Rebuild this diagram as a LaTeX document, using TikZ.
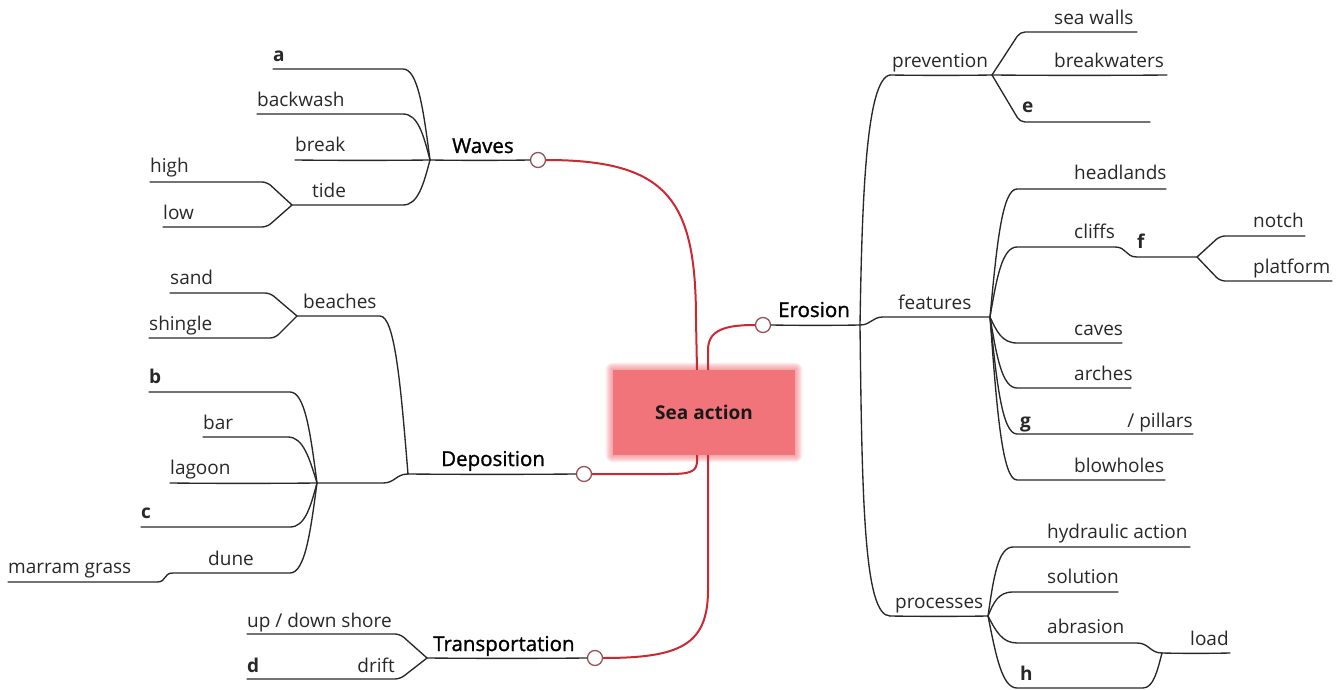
\documentclass[tikz,border=0pt]{standalone}
\usepackage{fontspec}
\setmainfont{Open Sans}
\newfontfamily\branchfont[FakeBold=1.2]{Open Sans}
\usetikzlibrary{calc,backgrounds}

\definecolor{seared}{RGB}{240,116,122}
\definecolor{linkred}{RGB}{205,40,50}
\definecolor{ringcol}{RGB}{150,85,90}
\definecolor{inkgray}{RGB}{40,40,40}

% curve from a knee point #1 (horizontal tangent, offset #3) into hub #2
\newcommand\kn[3]{.. controls ($(#1)+(#3,0)$) and ($(#2)!0.55!(#1)+(0.55*#3,0)$) .. (#2)}
% gentle S-step between two horizontal runs
\newcommand\sstep[2]{.. controls ($(#1)+(12,0)$) and ($(#2)+(-12,0)$) .. (#2)}
% straight run written as a very slightly sagging curve, so all strokes render alike
\newcommand\strt[2]{(#1) .. controls ($(#1)!0.33!(#2)+(0,0.5)$) and ($(#1)!0.67!(#2)+(0,0.5)$) .. (#2)}

\tikzset{
  lab/.style={anchor=base west, inner sep=0pt, font=\fontsize{19}{22}\selectfont, text=inkgray},
  labr/.style={lab, anchor=base east},
  letr/.style={lab, font=\fontsize{19}{22}\selectfont\bfseries},
  branch/.style={lab, font=\fontsize{20.5}{24}\branchfont, text=black},
  twig/.style={draw=inkgray, line width=1.35pt, line cap=round, line join=round},
  twigr/.style={twig, rounded corners=5pt},
  redlink/.style={draw=linkred, line width=2pt},
  ring/.style={circle, draw=ringcol, line width=1.3pt, fill=white, minimum size=15pt, inner sep=0pt},
  seabox/.style={fill=seared, minimum width=182pt, minimum height=85pt, inner sep=0pt,
    font=\fontsize{19}{22}\selectfont\bfseries, text=black!90}
}

\begin{document}
\begin{tikzpicture}[x=1pt,y=-1pt]
\useasboundingbox (0,0) rectangle (1342,690);

% ---------- centre ----------
\node[seabox] (sea) at (704,412.5) {Sea action};
\begin{scope}[on background layer]
  \foreach \i in {1,...,7}
    \fill[seared, opacity=0.13, rounded corners=\i pt]
      ($(sea.north west)+(-\i,-\i)$) rectangle ($(sea.south east)+(\i,\i)$);
\end{scope}
\coordinate (snA) at ($(sea.north)+(-7,0)$);
\coordinate (snB) at ($(sea.north)+(4,0)$);
\coordinate (ssA) at ($(sea.south)+(-7,0)$);
\coordinate (ssB) at ($(sea.south)+(4,0)$);

\node[ring] (wc) at (538,160) {};
\node[ring] (ec) at (763,325) {};
\node[ring] (dc) at (584,474) {};
\node[ring] (tc) at (595,658) {};

\coordinate (wr1) at (696,320);
\coordinate (er1) at (708,350);
\coordinate (dr1) at (697,461);
\coordinate (dr2) at (668,474);
\coordinate (tr1) at (708,590);
\draw[redlink] (wc.east) .. controls (668,160) and (696,200) .. (wr1) -- (snA);
\draw[redlink] (snB) -- (er1) .. controls (708,330) and (725,325) .. (ec.west);
\draw[redlink] (ssA) -- (dr1) .. controls (697,472) and (690,474) .. (dr2) -- (dc.east);
\draw[redlink] (ssB) -- (tr1) .. controls (708,645) and (680,658) .. (tc.east);

% ---------- Waves ----------
\coordinate (wh) at (430,160);
\node[branch] (waves) at (452,153) {Waves};
\draw[twig] \strt{wh}{wc.west};

\node[letr] (la) at (273,62) {a};
\coordinate (a0) at (273,69); \coordinate (a1) at (403,69);
\draw[twig] (a0) -- (a1) \kn{a1}{wh}{15};

\node[lab] (lbw) at (257,107) {backwash};
\coordinate (bw0) at (257,114); \coordinate (bw1) at (403,114);
\draw[twig] (bw0) -- (bw1) \kn{bw1}{wh}{15};

\node[lab] (lbr) at (295,152) {break};
\coordinate (br0) at (295,160);
\draw[twig] \strt{br0}{wh};

\node[lab] (ltd) at (312,197) {tide};
\coordinate (th) at (292,205); \coordinate (t1) at (403,205);
\draw[twig] (th) -- (t1) \kn{t1}{wh}{15};

\node[lab] (lhi) at (150,173) {high};
\coordinate (hi0) at (150,182); \coordinate (hi1) at (267,182);
\draw[twigr] (hi0) -- (hi1) -- (th);

\node[lab] (llo) at (163,219) {low};
\coordinate (lo0) at (163,227); \coordinate (lo1) at (267,227);
\draw[twigr] (lo0) -- (lo1) -- (th);

% ---------- Deposition ----------
\coordinate (dh) at (408,474);
\node[branch] (depo) at (441,466) {Deposition};
\draw[twig] \strt{dh}{dc.west};

\coordinate (bh) at (297,316); \coordinate (bc1) at (380,316);
\node[lab] (lbe) at (303,308) {beaches};
\draw[twig] (bh) -- (bc1) \kn{bc1}{dh}{15};

\node[lab] (lsa) at (170,284) {sand};
\coordinate (sa0) at (170,293); \coordinate (sa1) at (270,293);
\draw[twigr] (sa0) -- (sa1) -- (bh);

\node[lab] (lsh) at (149,330) {shingle};
\coordinate (sh0) at (149,338); \coordinate (sh1) at (275,338);
\draw[twigr] (sh0) -- (sh1) -- (bh);

\coordinate (lh) at (317,483); \coordinate (lh1) at (383,483);
\draw[twig] (lh) -- (lh1) \sstep{lh1}{dh};

\node[letr] (lb) at (149,383) {b};
\coordinate (b0) at (149,392); \coordinate (b1) at (290,392);
\draw[twig] (b0) -- (b1) \kn{b1}{lh}{15};

\node[lab] (lba) at (203,429) {bar};
\coordinate (ba0) at (203,437); \coordinate (ba1) at (288,437);
\draw[twig] (ba0) -- (ba1) \kn{ba1}{lh}{15};

\node[lab] (lla) at (170,474) {lagoon};
\coordinate (la0) at (170,483);
\draw[twig] \strt{la0}{lh};

\node[letr] (lc) at (141,518) {c};
\coordinate (c0) at (141,527); \coordinate (c1) at (290,527);
\draw[twig] (c0) -- (c1) \kn{c1}{lh}{15};

\node[lab] (ldu) at (208,565) {dune};
\node[lab] (lma) at (8,573) {marram grass};
\coordinate (m0) at (8,582); \coordinate (m1) at (157,582);
\coordinate (du0) at (173,573); \coordinate (du1) at (290,573);
\draw[twig] (m0) -- (m1) .. controls (167,582) and (163,573) .. (du0) -- (du1) \kn{du1}{lh}{15};

% ---------- Transportation ----------
\coordinate (trh) at (427,658);
\node[branch] (trans) at (433,651) {Transportation};
\draw[twig] \strt{trh}{tc.west};

\node[lab] (lup) at (247,627) {up / down shore};
\coordinate (up0) at (247,634); \coordinate (up1) at (400,634);
\draw[twigr] (up0) -- (up1) -- (trh);

\node[letr] (ld) at (247,672) {d};
\node[labr] (ldr) at (395,672) {drift};
\coordinate (dr0) at (247,679); \coordinate (dr3) at (400,679);
\draw[twigr] (dr0) -- (dr3) -- (trh);

% ---------- Erosion ----------
\node[branch] (eros) at (778,317) {Erosion};
\coordinate (ej) at (860,325);
\draw[twig] \strt{ec.east}{ej};

\coordinate (pv0) at (890,75); \coordinate (pvh) at (992,75);
\coordinate (fj0) at (883,317); \coordinate (fh) at (990,317);
\coordinate (pr0) at (890,616); \coordinate (prh) at (988,616);
\draw[twig] (pv0) .. controls (866,79) and (862,200) .. (ej)
            .. controls (862,500) and (864,616) .. (pr0);
\draw[twig] \strt{pv0}{pvh};
\draw[twig] (ej) .. controls (871,325) and (872,317) .. (fj0) -- (fh);
\draw[twig] \strt{pr0}{prh};
\node[lab] (lpv) at (892,68) {prevention};
\node[lab] (lfe) at (898,309) {features};
\node[lab] (lpr) at (895,608) {processes};

% prevention
\node[lab] (lsw) at (1054,25) {sea walls};
\coordinate (sw1) at (1020,32); \coordinate (sw0) at (1137,32);
\draw[twigr] (pvh) -- (sw1) -- (sw0);
\node[lab] (lbk) at (1054,68) {breakwaters};
\coordinate (bk0) at (1167,75);
\draw[twig] \strt{pvh}{bk0};
\node[letr] (le) at (1022,113) {e};
\coordinate (e1) at (1020,122); \coordinate (e0) at (1150,122);
\draw[twigr] (pvh) -- (e1) -- (e0);

% features
\node[lab] (lhd) at (1074,180) {headlands};
\coordinate (hd0) at (1166,189); \coordinate (hd1) at (1017,189);
\draw[twig] (hd0) -- (hd1) \kn{hd1}{fh}{-15};

\node[lab] (lcl) at (1074,238) {cliffs};
\node[letr] (lf) at (1137,248) {f};
\coordinate (cl1) at (1017,247); \coordinate (cl2) at (1115,247);
\coordinate (cl3) at (1137,257); \coordinate (ffh) at (1197,257);
\draw[twig] (ffh) -- (cl3) .. controls (1125,257) and (1127,247) .. (cl2) -- (cl1) \kn{cl1}{fh}{-15};

\node[lab] (lno) at (1253,227) {notch};
\coordinate (no1) at (1220,236); \coordinate (no0) at (1305,236);
\draw[twigr] (ffh) -- (no1) -- (no0);
\node[lab] (lpl) at (1253,273) {platform};
\coordinate (pl1) at (1220,281); \coordinate (pl0) at (1332,281);
\draw[twigr] (ffh) -- (pl1) -- (pl0);

\node[lab] (lca) at (1074,335) {caves};
\coordinate (ca0) at (1122,343); \coordinate (ca1) at (1017,343);
\draw[twig] (ca0) -- (ca1) \kn{ca1}{fh}{-15};

\node[lab] (lar) at (1074,380) {arches};
\coordinate (ar0) at (1131,388); \coordinate (ar1) at (1017,388);
\draw[twig] (ar0) -- (ar1) \kn{ar1}{fh}{-15};

\node[letr] (lg) at (1020,427) {g};
\node[labr] (lpi) at (1193,427) {/ pillars};
\coordinate (g0) at (1193,434); \coordinate (g1) at (1017,434);
\draw[twig] (g0) -- (g1) \kn{g1}{fh}{-15};

\node[lab] (lbh) at (1074,472) {blowholes};
\coordinate (bo0) at (1165,480); \coordinate (bo1) at (1017,480);
\draw[twig] (bo0) -- (bo1) \kn{bo1}{fh}{-15};

% processes
\node[lab] (lhy) at (1047,538) {hydraulic action};
\coordinate (hy0) at (1190,547); \coordinate (hy1) at (1013,547);
\draw[twig] (hy0) -- (hy1) \kn{hy1}{prh}{-15};

\node[lab] (lso) at (1047,583) {solution};
\coordinate (so0) at (1118,592); \coordinate (so1) at (1013,592);
\draw[twig] (so0) -- (so1) \kn{so1}{prh}{-15};

\coordinate (loh) at (1162,653);
\node[lab] (lab) at (1047,633) {abrasion};
\coordinate (ab1) at (1017,643); \coordinate (ab2) at (1137,643);
\draw[twig] (loh) .. controls (1150,653) and (1149,643) .. (ab2) -- (ab1) \kn{ab1}{prh}{-15};

\node[letr] (lhh) at (1020,680) {h};
\coordinate (hh1) at (1017,688); \coordinate (hh2) at (1143,688);
\draw[twig] (prh) .. controls ($(prh)!0.55!(hh1)+(-8,0)$) and (1002,688) .. (hh1) -- (hh2) \kn{hh2}{loh}{10};

\node[lab] (llo2) at (1190,645) {load};
\coordinate (lo3) at (1230,653);
\draw[twig] \strt{loh}{lo3};

\end{tikzpicture}
\end{document}
